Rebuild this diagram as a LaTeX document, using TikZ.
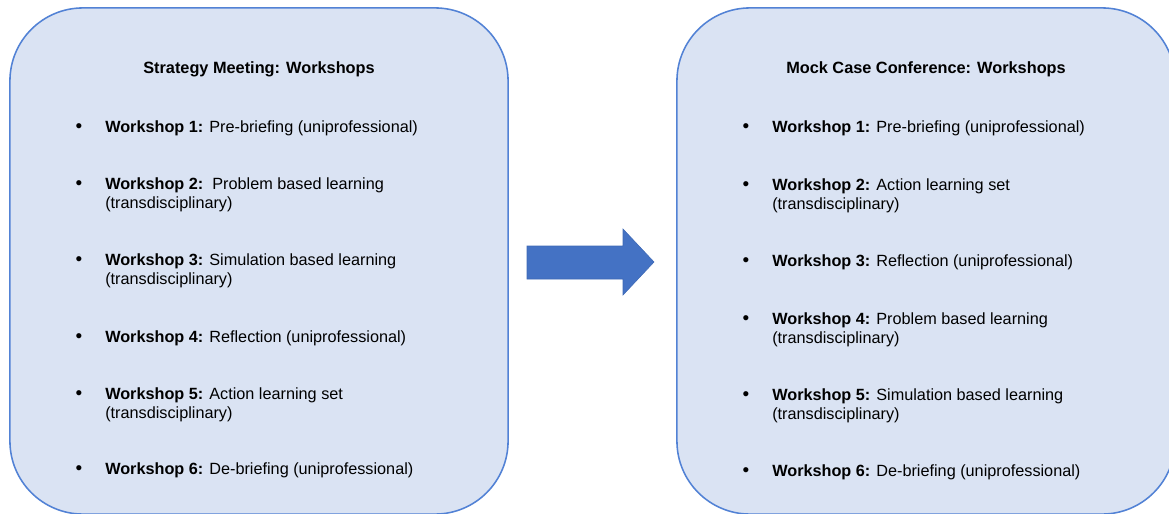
\documentclass[tikz,border=0pt]{standalone}
\usepackage{fontspec}
\setmainfont{Liberation Sans}

\definecolor{panelfill}{HTML}{DAE3F3}
\definecolor{paneledge}{HTML}{5282D5}
\definecolor{arrowblue}{HTML}{4472C4}
\definecolor{arrowedge}{HTML}{3D68B5}

% lines of one item, first baseline on top
\renewcommand{\arraystretch}{1.05}
\newcommand{\wstext}[1]{\begin{tabular}[t]{@{}l@{}}#1\end{tabular}}

\tikzset{
    panel/.style={draw=paneledge, line width=1.1pt, fill=panelfill,
        rounded corners=1.825cm, minimum width=12.45cm,
        minimum height=12.65cm, inner sep=0pt},
    heading/.style={anchor=base, inner sep=0pt,
        font=\bfseries\fontsize{11.6pt}{13.5pt}\selectfont},
    entry/.style={anchor=base west, inner sep=0pt,
        font=\fontsize{11.55pt}{13.5pt}\selectfont},
    dot/.style={anchor=base, inner sep=0pt,
        font=\fontsize{13.5pt}{13.5pt}\selectfont},
    arrowshape/.style={fill=arrowblue, draw=arrowedge, line width=0.4pt}
}

\begin{document}
\begin{tikzpicture}[x=0.025cm, y=-0.025cm]
    \clip (0,0) rectangle (1169,513);

    % Strategy Meeting
    \node[panel] (strategy) at (259,261) {};
    \node[heading] (strategyhead) at (259,73) {Strategy Meeting: Workshops};
    \node[dot] (sdot1) at (79,132) {•};
    \node[entry] (sws1) at (105,132) {\textbf{Workshop 1:} Pre-briefing (uniprofessional)};
    \node[dot] (sdot2) at (79,189) {•};
    \node[entry] (sws2) at (105,189) {\wstext{\textbf{Workshop 2:}\ \ Problem based learning\\(transdisciplinary)}};
    \node[dot] (sdot3) at (79,265) {•};
    \node[entry] (sws3) at (105,265) {\wstext{\textbf{Workshop 3:} Simulation based learning\\(transdisciplinary)}};
    \node[dot] (sdot4) at (79,342) {•};
    \node[entry] (sws4) at (105,342) {\textbf{Workshop 4:} Reflection (uniprofessional)};
    \node[dot] (sdot5) at (79,399) {•};
    \node[entry] (sws5) at (105,399) {\wstext{\textbf{Workshop 5:} Action learning set\\(transdisciplinary)}};
    \node[dot] (sdot6) at (79,474) {•};
    \node[entry] (sws6) at (105,474) {\textbf{Workshop 6:} De-briefing (uniprofessional)};

    % block arrow
    \draw[arrowshape] (527,246) -- (623,246) -- (623,229) -- (654,262)
    -- (623,295) -- (623,279) -- (527,279) -- cycle;

    % Mock Case Conference
    \node[panel] (mock) at (926,261) {};
    \node[heading] (mockhead) at (926,73) {Mock Case Conference: Workshops};
    \node[dot] (mdot1) at (746,132) {•};
    \node[entry] (mws1) at (772,132) {\textbf{Workshop 1:} Pre-briefing (uniprofessional)};
    \node[dot] (mdot2) at (746,190) {•};
    \node[entry] (mws2) at (772,190) {\wstext{\textbf{Workshop 2:} Action learning set\\(transdisciplinary)}};
    \node[dot] (mdot3) at (746,266) {•};
    \node[entry] (mws3) at (772,266) {\textbf{Workshop 3:} Reflection (uniprofessional)};
    \node[dot] (mdot4) at (746,324) {•};
    \node[entry] (mws4) at (772,324) {\wstext{\textbf{Workshop 4:} Problem based learning\\(transdisciplinary)}};
    \node[dot] (mdot5) at (746,400) {•};
    \node[entry] (mws5) at (772,400) {\wstext{\textbf{Workshop 5:} Simulation based learning\\(transdisciplinary)}};
    \node[dot] (mdot6) at (746,476) {•};
    \node[entry] (mws6) at (772,476) {\textbf{Workshop 6:} De-briefing (uniprofessional)};
\end{tikzpicture}
\end{document}
